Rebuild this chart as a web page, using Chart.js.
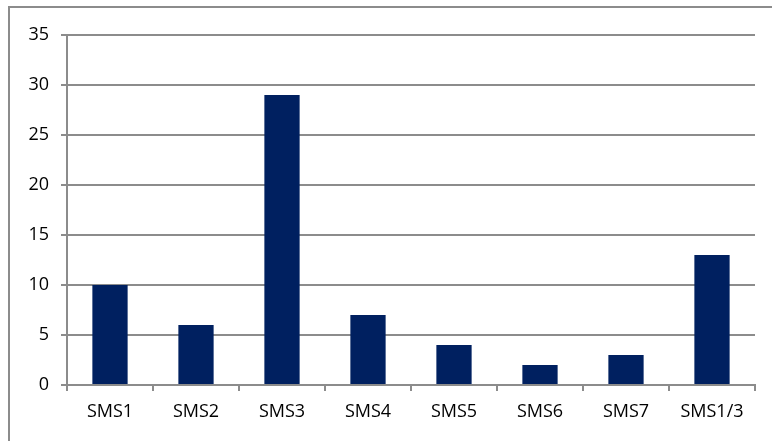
<!DOCTYPE html>
<html>
<head>
<meta charset="utf-8">
<script src="https://cdn.jsdelivr.net/npm/chart.js@4"></script>
<style>
  html, body { margin: 0; padding: 0; background: #fff; }
  #wrap { position: relative; width: 772px; height: 441px; overflow: hidden; }
  #frame { position: absolute; left: 8px; top: 6px; width: 800px; height: 500px;
           border-left: 2px solid #8c8c8c; border-top: 2px solid #8c8c8c; box-sizing: border-box; }
  canvas { position: absolute; left: 0; top: 0; }
</style>
</head>
<body>
<div id="wrap">
  <div id="frame"></div>
  <canvas id="barchart" width="772" height="441"></canvas>
</div>
<script>
const categories = ['SMS1', 'SMS2', 'SMS3', 'SMS4', 'SMS5', 'SMS6', 'SMS7', 'SMS1/3'];
const counts = [10, 6, 29, 7, 4, 2, 3, 13];

const ctx = document.getElementById('barchart');
Chart.defaults.font.family = "'Open Sans', sans-serif";
Chart.defaults.font.size = 18;
Chart.defaults.color = "#000000";

new Chart(ctx, {
    type: 'bar',
    data: {
        labels: categories,
        datasets: [
            {
                data: counts,
                backgroundColor: "#002060",
                borderWidth: 0,
                barPercentage: 0.41,
                categoryPercentage: 1
            }
        ]
    },
    options: {
        responsive: false,
        animation: false,
        layout: {
            padding: { left: 0, top: 35, right: 17, bottom: 0 }
        },
        scales: {
            x: {
                grid: {
                    offset: true,
                    drawOnChartArea: false,
                    color: '#8c8c8c',
                    lineWidth: 2,
                    tickLength: 6
                },
                border: { color: '#8c8c8c', width: 2 },
                ticks: { padding: 10 },
                afterFit: function (scale) { scale.height = 56; }
            },
            y: {
                min: 0,
                max: 35,
                ticks: { stepSize: 5, padding: 12 },
                grid: {
                    color: '#8c8c8c',
                    lineWidth: 2,
                    tickLength: 6
                },
                border: { color: '#8c8c8c', width: 2 },
                afterFit: function (scale) { scale.width = 67; }
            }
        },
        plugins: {
            legend: { display: false },
            tooltip: { enabled: false }
        }
    }
});
</script>
</body>
</html>
